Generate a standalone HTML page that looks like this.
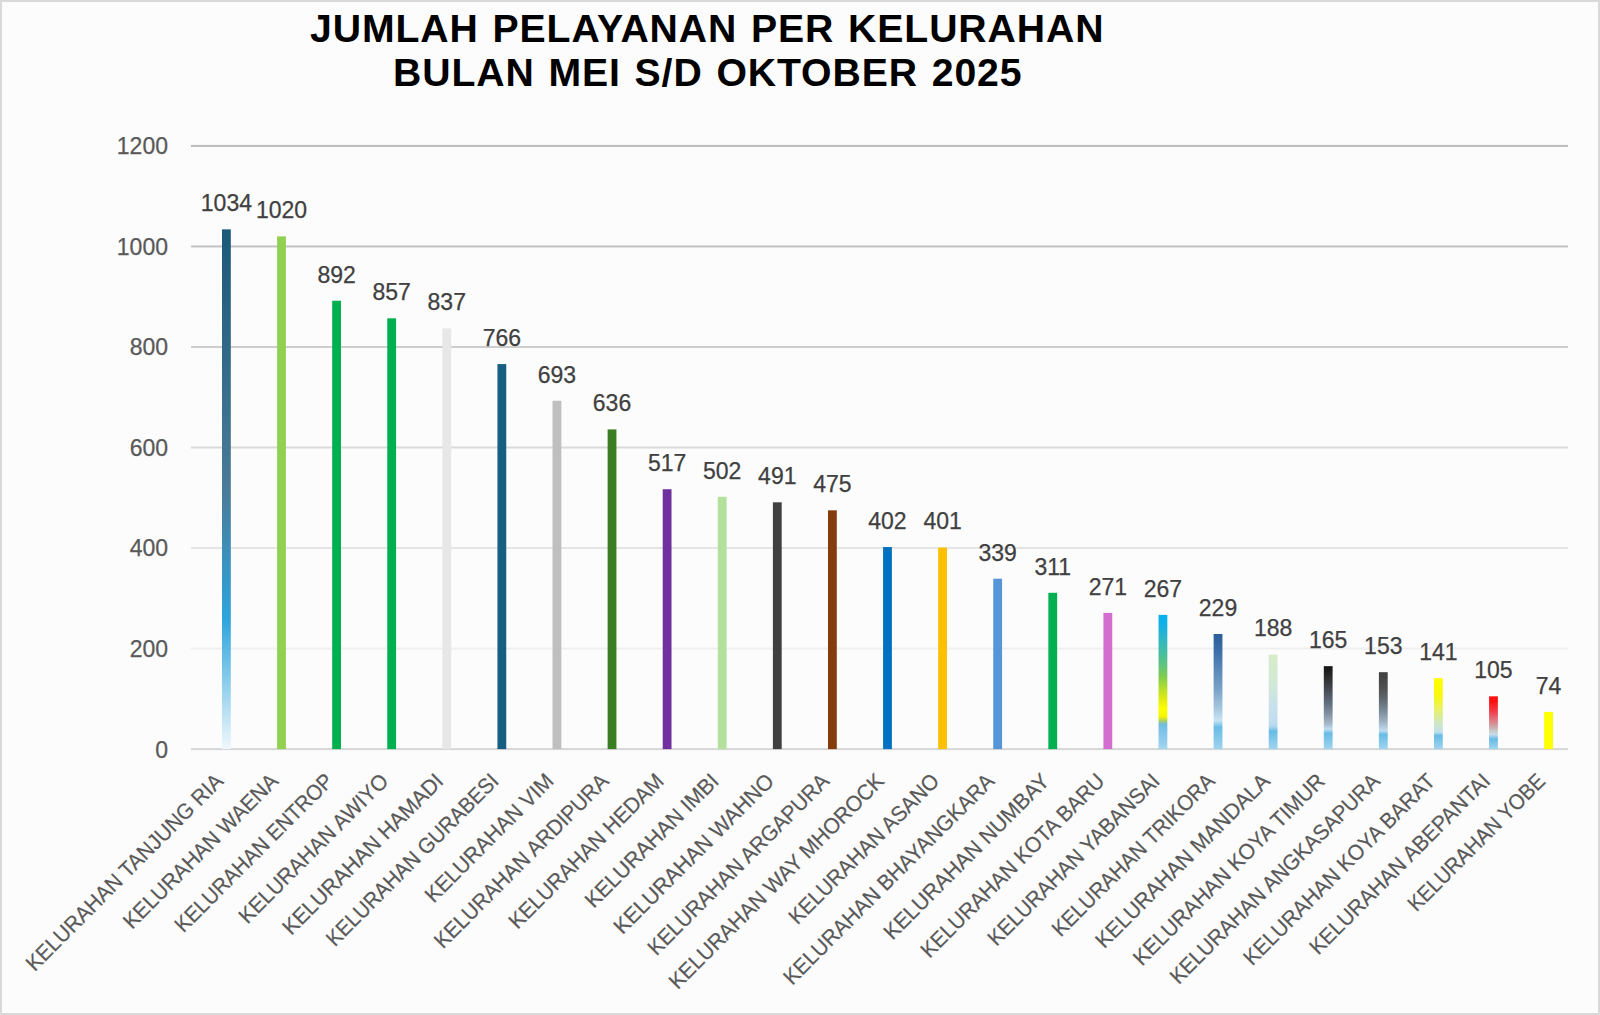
<!DOCTYPE html>
<html><head><meta charset="utf-8"><title>Jumlah Pelayanan per Kelurahan</title>
<style>
html,body{margin:0;padding:0;background:#fcfcfc;}
body{width:1600px;height:1015px;overflow:hidden;position:relative;}
svg{position:absolute;left:0;top:0;display:block;}
text{font-family:"Liberation Sans", sans-serif;}
</style></head><body>
<svg width="1600" height="1015" viewBox="0 0 1600 1015">
<defs>
<linearGradient id="g1" x1="0" y1="0" x2="0" y2="1"><stop offset="0" stop-color="#1b587a"/><stop offset="0.5" stop-color="#4a7b98"/><stop offset="0.75" stop-color="#2ea4dc"/><stop offset="1" stop-color="#f0f8fc"/></linearGradient>
<linearGradient id="g2" x1="0" y1="0" x2="0" y2="1"><stop offset="0" stop-color="#08b0ec"/><stop offset="0.07" stop-color="#10b0e8"/><stop offset="0.15" stop-color="#28b4d0"/><stop offset="0.26" stop-color="#40bca8"/><stop offset="0.37" stop-color="#60c480"/><stop offset="0.46" stop-color="#80cc50"/><stop offset="0.54" stop-color="#b0dc30"/><stop offset="0.63" stop-color="#e0ec10"/><stop offset="0.7" stop-color="#ffff00"/><stop offset="0.76" stop-color="#f4f400"/><stop offset="0.79" stop-color="#a8d060"/><stop offset="0.815" stop-color="#70bce4"/><stop offset="1" stop-color="#a4d4f0"/></linearGradient>
<linearGradient id="g3" x1="0" y1="0" x2="0" y2="1"><stop offset="0" stop-color="#2a5e96"/><stop offset="0.14" stop-color="#3a6ea8"/><stop offset="0.31" stop-color="#5a88b8"/><stop offset="0.48" stop-color="#7aa2c8"/><stop offset="0.65" stop-color="#a8c8e0"/><stop offset="0.75" stop-color="#c8e4f4"/><stop offset="0.81" stop-color="#68bce4"/><stop offset="1" stop-color="#a0d4f0"/></linearGradient>
<linearGradient id="g4" x1="0" y1="0" x2="0" y2="1"><stop offset="0" stop-color="#d8ecc8"/><stop offset="0.35" stop-color="#d0e8d8"/><stop offset="0.55" stop-color="#c8e0ec"/><stop offset="0.72" stop-color="#c0dcf0"/><stop offset="0.76" stop-color="#b0d8f0"/><stop offset="0.81" stop-color="#68bce4"/><stop offset="1" stop-color="#a0d4f0"/></linearGradient>
<linearGradient id="g5" x1="0" y1="0" x2="0" y2="1"><stop offset="0" stop-color="#141414"/><stop offset="0.15" stop-color="#303030"/><stop offset="0.3" stop-color="#484f58"/><stop offset="0.45" stop-color="#607080"/><stop offset="0.6" stop-color="#8898a8"/><stop offset="0.7" stop-color="#a8bccc"/><stop offset="0.76" stop-color="#c0dcf0"/><stop offset="0.81" stop-color="#68bce4"/><stop offset="1" stop-color="#a0d4f0"/></linearGradient>
<linearGradient id="g6" x1="0" y1="0" x2="0" y2="1"><stop offset="0" stop-color="#404040"/><stop offset="0.2" stop-color="#505050"/><stop offset="0.35" stop-color="#606870"/><stop offset="0.5" stop-color="#7a8a98"/><stop offset="0.65" stop-color="#a0b4c4"/><stop offset="0.76" stop-color="#c0dcf0"/><stop offset="0.81" stop-color="#68bce4"/><stop offset="1" stop-color="#a0d4f0"/></linearGradient>
<linearGradient id="g7" x1="0" y1="0" x2="0" y2="1"><stop offset="0" stop-color="#ffff00"/><stop offset="0.25" stop-color="#f8f810"/><stop offset="0.45" stop-color="#e8f070"/><stop offset="0.55" stop-color="#d8ec98"/><stop offset="0.62" stop-color="#d0e8c0"/><stop offset="0.7" stop-color="#c8e4d8"/><stop offset="0.76" stop-color="#c0e0f0"/><stop offset="0.81" stop-color="#68bce4"/><stop offset="1" stop-color="#a0d4f0"/></linearGradient>
<linearGradient id="g8" x1="0" y1="0" x2="0" y2="1"><stop offset="0" stop-color="#ff1010"/><stop offset="0.1" stop-color="#ff1010"/><stop offset="0.3" stop-color="#f04050"/><stop offset="0.45" stop-color="#e07880"/><stop offset="0.55" stop-color="#d09ca0"/><stop offset="0.65" stop-color="#c8c8c8"/><stop offset="0.72" stop-color="#c8dcec"/><stop offset="0.81" stop-color="#68bce4"/><stop offset="1" stop-color="#a0d4f0"/></linearGradient>
</defs>
<rect x="0" y="0" width="1600" height="1015" fill="#fcfcfc"/>
<rect x="1" y="1" width="1598" height="1013" fill="none" stroke="#d9d9d9" stroke-width="2"/>
<text x="310" y="41.8" font-size="39.2" font-weight="bold" fill="#000" letter-spacing="0.9" word-spacing="2.0">JUMLAH PELAYANAN PER KELURAHAN</text>
<text x="393" y="86.4" font-size="39.2" font-weight="bold" fill="#000" letter-spacing="0.9" word-spacing="2.0">BULAN MEI S/D OKTOBER 2025</text>
<rect x="191" y="748.10" width="1377" height="2" fill="#d6d6d6"/>
<text x="168" y="757.50" text-anchor="end" font-size="23.0" fill="#595959" stroke="#595959" stroke-width="0.25">0</text>
<rect x="191" y="647.57" width="1377" height="2" fill="#efefef"/>
<text x="168" y="656.97" text-anchor="end" font-size="23.0" fill="#595959" stroke="#595959" stroke-width="0.25">200</text>
<rect x="191" y="547.04" width="1377" height="2" fill="#e5e5e5"/>
<text x="168" y="556.44" text-anchor="end" font-size="23.0" fill="#595959" stroke="#595959" stroke-width="0.25">400</text>
<rect x="191" y="446.51" width="1377" height="2" fill="#dadada"/>
<text x="168" y="455.91" text-anchor="end" font-size="23.0" fill="#595959" stroke="#595959" stroke-width="0.25">600</text>
<rect x="191" y="345.98" width="1377" height="2" fill="#cecece"/>
<text x="168" y="355.38" text-anchor="end" font-size="23.0" fill="#595959" stroke="#595959" stroke-width="0.25">800</text>
<rect x="191" y="245.45" width="1377" height="2" fill="#c3c3c3"/>
<text x="168" y="254.85" text-anchor="end" font-size="23.0" fill="#595959" stroke="#595959" stroke-width="0.25">1000</text>
<rect x="191" y="144.92" width="1377" height="2" fill="#bbbbbb"/>
<text x="168" y="154.32" text-anchor="end" font-size="23.0" fill="#595959" stroke="#595959" stroke-width="0.25">1200</text>
<rect x="222.00" y="229.36" width="8.8" height="519.74" fill="url(#g1)"/>
<text x="226.40" y="211.16" text-anchor="middle" font-size="23.0" fill="#404040" stroke="#404040" stroke-width="0.25">1034</text>
<rect x="277.09" y="236.40" width="8.8" height="512.70" fill="#92d050"/>
<text x="281.49" y="218.20" text-anchor="middle" font-size="23.0" fill="#404040" stroke="#404040" stroke-width="0.25">1020</text>
<rect x="332.18" y="300.74" width="8.8" height="448.36" fill="#00b050"/>
<text x="336.58" y="282.54" text-anchor="middle" font-size="23.0" fill="#404040" stroke="#404040" stroke-width="0.25">892</text>
<rect x="387.27" y="318.33" width="8.8" height="430.77" fill="#00b050"/>
<text x="391.67" y="300.13" text-anchor="middle" font-size="23.0" fill="#404040" stroke="#404040" stroke-width="0.25">857</text>
<rect x="442.36" y="328.38" width="8.8" height="420.72" fill="#e7e7e7"/>
<text x="446.76" y="310.18" text-anchor="middle" font-size="23.0" fill="#404040" stroke="#404040" stroke-width="0.25">837</text>
<rect x="497.45" y="364.07" width="8.8" height="385.03" fill="#165e82"/>
<text x="501.85" y="345.87" text-anchor="middle" font-size="23.0" fill="#404040" stroke="#404040" stroke-width="0.25">766</text>
<rect x="552.54" y="400.76" width="8.8" height="348.34" fill="#bfbfbf"/>
<text x="556.94" y="382.56" text-anchor="middle" font-size="23.0" fill="#404040" stroke="#404040" stroke-width="0.25">693</text>
<rect x="607.63" y="429.41" width="8.8" height="319.69" fill="#3a7d22"/>
<text x="612.03" y="411.21" text-anchor="middle" font-size="23.0" fill="#404040" stroke="#404040" stroke-width="0.25">636</text>
<rect x="662.72" y="489.23" width="8.8" height="259.87" fill="#7030a0"/>
<text x="667.12" y="471.03" text-anchor="middle" font-size="23.0" fill="#404040" stroke="#404040" stroke-width="0.25">517</text>
<rect x="717.81" y="496.77" width="8.8" height="252.33" fill="#b3e19b"/>
<text x="722.21" y="478.57" text-anchor="middle" font-size="23.0" fill="#404040" stroke="#404040" stroke-width="0.25">502</text>
<rect x="772.90" y="502.30" width="8.8" height="246.80" fill="#404040"/>
<text x="777.30" y="484.10" text-anchor="middle" font-size="23.0" fill="#404040" stroke="#404040" stroke-width="0.25">491</text>
<rect x="827.99" y="510.34" width="8.8" height="238.76" fill="#843c0c"/>
<text x="832.39" y="492.14" text-anchor="middle" font-size="23.0" fill="#404040" stroke="#404040" stroke-width="0.25">475</text>
<rect x="883.08" y="547.03" width="8.8" height="202.07" fill="#0070c0"/>
<text x="887.48" y="528.83" text-anchor="middle" font-size="23.0" fill="#404040" stroke="#404040" stroke-width="0.25">402</text>
<rect x="938.17" y="547.54" width="8.8" height="201.56" fill="#ffc000"/>
<text x="942.57" y="529.34" text-anchor="middle" font-size="23.0" fill="#404040" stroke="#404040" stroke-width="0.25">401</text>
<rect x="993.26" y="578.70" width="8.8" height="170.40" fill="#5596d8"/>
<text x="997.66" y="560.50" text-anchor="middle" font-size="23.0" fill="#404040" stroke="#404040" stroke-width="0.25">339</text>
<rect x="1048.35" y="592.78" width="8.8" height="156.32" fill="#00b050"/>
<text x="1052.75" y="574.58" text-anchor="middle" font-size="23.0" fill="#404040" stroke="#404040" stroke-width="0.25">311</text>
<rect x="1103.44" y="612.88" width="8.8" height="136.22" fill="#d36ecf"/>
<text x="1107.84" y="594.68" text-anchor="middle" font-size="23.0" fill="#404040" stroke="#404040" stroke-width="0.25">271</text>
<rect x="1158.53" y="614.89" width="8.8" height="134.21" fill="url(#g2)"/>
<text x="1162.93" y="596.69" text-anchor="middle" font-size="23.0" fill="#404040" stroke="#404040" stroke-width="0.25">267</text>
<rect x="1213.62" y="633.99" width="8.8" height="115.11" fill="url(#g3)"/>
<text x="1218.02" y="615.79" text-anchor="middle" font-size="23.0" fill="#404040" stroke="#404040" stroke-width="0.25">229</text>
<rect x="1268.71" y="654.60" width="8.8" height="94.50" fill="url(#g4)"/>
<text x="1273.11" y="636.40" text-anchor="middle" font-size="23.0" fill="#404040" stroke="#404040" stroke-width="0.25">188</text>
<rect x="1323.80" y="666.16" width="8.8" height="82.94" fill="url(#g5)"/>
<text x="1328.20" y="647.96" text-anchor="middle" font-size="23.0" fill="#404040" stroke="#404040" stroke-width="0.25">165</text>
<rect x="1378.89" y="672.19" width="8.8" height="76.91" fill="url(#g6)"/>
<text x="1383.29" y="653.99" text-anchor="middle" font-size="23.0" fill="#404040" stroke="#404040" stroke-width="0.25">153</text>
<rect x="1433.98" y="678.23" width="8.8" height="70.87" fill="url(#g7)"/>
<text x="1438.38" y="660.03" text-anchor="middle" font-size="23.0" fill="#404040" stroke="#404040" stroke-width="0.25">141</text>
<rect x="1489.07" y="696.32" width="8.8" height="52.78" fill="url(#g8)"/>
<text x="1493.47" y="678.12" text-anchor="middle" font-size="23.0" fill="#404040" stroke="#404040" stroke-width="0.25">105</text>
<rect x="1544.16" y="711.90" width="8.8" height="37.20" fill="#ffff00"/>
<text x="1548.56" y="693.70" text-anchor="middle" font-size="23.0" fill="#404040" stroke="#404040" stroke-width="0.25">74</text>
<text transform="translate(224.40,782.5) rotate(-45)" text-anchor="end" font-size="21.8" fill="#595959" stroke="#595959" stroke-width="0.2" textLength="268.3" lengthAdjust="spacingAndGlyphs">KELURAHAN TANJUNG RIA</text>
<text transform="translate(279.49,782.5) rotate(-45)" text-anchor="end" font-size="21.8" fill="#595959" stroke="#595959" stroke-width="0.2" textLength="208.6" lengthAdjust="spacingAndGlyphs">KELURAHAN WAENA</text>
<text transform="translate(334.58,782.5) rotate(-45)" text-anchor="end" font-size="21.8" fill="#595959" stroke="#595959" stroke-width="0.2" textLength="213.5" lengthAdjust="spacingAndGlyphs">KELURAHAN ENTROP</text>
<text transform="translate(389.67,782.5) rotate(-45)" text-anchor="end" font-size="21.8" fill="#595959" stroke="#595959" stroke-width="0.2" textLength="201.0" lengthAdjust="spacingAndGlyphs">KELURAHAN AWIYO</text>
<text transform="translate(444.76,782.5) rotate(-45)" text-anchor="end" font-size="21.8" fill="#595959" stroke="#595959" stroke-width="0.2" textLength="217.2" lengthAdjust="spacingAndGlyphs">KELURAHAN HAMADI</text>
<text transform="translate(499.85,782.5) rotate(-45)" text-anchor="end" font-size="21.8" fill="#595959" stroke="#595959" stroke-width="0.2" textLength="233.2" lengthAdjust="spacingAndGlyphs">KELURAHAN GURABESI</text>
<text transform="translate(554.94,782.5) rotate(-45)" text-anchor="end" font-size="21.8" fill="#595959" stroke="#595959" stroke-width="0.2" textLength="171.4" lengthAdjust="spacingAndGlyphs">KELURAHAN VIM</text>
<text transform="translate(610.03,782.5) rotate(-45)" text-anchor="end" font-size="21.8" fill="#595959" stroke="#595959" stroke-width="0.2" textLength="236.2" lengthAdjust="spacingAndGlyphs">KELURAHAN ARDIPURA</text>
<text transform="translate(665.12,782.5) rotate(-45)" text-anchor="end" font-size="21.8" fill="#595959" stroke="#595959" stroke-width="0.2" textLength="208.7" lengthAdjust="spacingAndGlyphs">KELURAHAN HEDAM</text>
<text transform="translate(720.21,782.5) rotate(-45)" text-anchor="end" font-size="21.8" fill="#595959" stroke="#595959" stroke-width="0.2" textLength="178.8" lengthAdjust="spacingAndGlyphs">KELURAHAN IMBI</text>
<text transform="translate(775.30,782.5) rotate(-45)" text-anchor="end" font-size="21.8" fill="#595959" stroke="#595959" stroke-width="0.2" textLength="216.0" lengthAdjust="spacingAndGlyphs">KELURAHAN WAHNO</text>
<text transform="translate(830.39,782.5) rotate(-45)" text-anchor="end" font-size="21.8" fill="#595959" stroke="#595959" stroke-width="0.2" textLength="246.0" lengthAdjust="spacingAndGlyphs">KELURAHAN ARGAPURA</text>
<text transform="translate(885.48,782.5) rotate(-45)" text-anchor="end" font-size="21.8" fill="#595959" stroke="#595959" stroke-width="0.2" textLength="293.8" lengthAdjust="spacingAndGlyphs">KELURAHAN WAY MHOROCK</text>
<text transform="translate(940.57,782.5) rotate(-45)" text-anchor="end" font-size="21.8" fill="#595959" stroke="#595959" stroke-width="0.2" textLength="202.2" lengthAdjust="spacingAndGlyphs">KELURAHAN ASANO</text>
<text transform="translate(995.66,782.5) rotate(-45)" text-anchor="end" font-size="21.8" fill="#595959" stroke="#595959" stroke-width="0.2" textLength="287.7" lengthAdjust="spacingAndGlyphs">KELURAHAN BHAYANGKARA</text>
<text transform="translate(1050.75,782.5) rotate(-45)" text-anchor="end" font-size="21.8" fill="#595959" stroke="#595959" stroke-width="0.2" textLength="223.9" lengthAdjust="spacingAndGlyphs">KELURAHAN NUMBAY</text>
<text transform="translate(1105.84,782.5) rotate(-45)" text-anchor="end" font-size="21.8" fill="#595959" stroke="#595959" stroke-width="0.2" textLength="249.5" lengthAdjust="spacingAndGlyphs">KELURAHAN KOTA BARU</text>
<text transform="translate(1160.93,782.5) rotate(-45)" text-anchor="end" font-size="21.8" fill="#595959" stroke="#595959" stroke-width="0.2" textLength="232.5" lengthAdjust="spacingAndGlyphs">KELURAHAN YABANSAI</text>
<text transform="translate(1216.02,782.5) rotate(-45)" text-anchor="end" font-size="21.8" fill="#595959" stroke="#595959" stroke-width="0.2" textLength="219.7" lengthAdjust="spacingAndGlyphs">KELURAHAN TRIKORA</text>
<text transform="translate(1271.11,782.5) rotate(-45)" text-anchor="end" font-size="21.8" fill="#595959" stroke="#595959" stroke-width="0.2" textLength="235.9" lengthAdjust="spacingAndGlyphs">KELURAHAN MANDALA</text>
<text transform="translate(1326.20,782.5) rotate(-45)" text-anchor="end" font-size="21.8" fill="#595959" stroke="#595959" stroke-width="0.2" textLength="260.5" lengthAdjust="spacingAndGlyphs">KELURAHAN KOYA TIMUR</text>
<text transform="translate(1381.29,782.5) rotate(-45)" text-anchor="end" font-size="21.8" fill="#595959" stroke="#595959" stroke-width="0.2" textLength="286.6" lengthAdjust="spacingAndGlyphs">KELURAHAN ANGKASAPURA</text>
<text transform="translate(1436.38,782.5) rotate(-45)" text-anchor="end" font-size="21.8" fill="#595959" stroke="#595959" stroke-width="0.2" textLength="260.4" lengthAdjust="spacingAndGlyphs">KELURAHAN KOYA BARAT</text>
<text transform="translate(1491.47,782.5) rotate(-45)" text-anchor="end" font-size="21.8" fill="#595959" stroke="#595959" stroke-width="0.2" textLength="245.1" lengthAdjust="spacingAndGlyphs">KELURAHAN ABEPANTAI</text>
<text transform="translate(1546.56,782.5) rotate(-45)" text-anchor="end" font-size="21.8" fill="#595959" stroke="#595959" stroke-width="0.2" textLength="184.0" lengthAdjust="spacingAndGlyphs">KELURAHAN YOBE</text>
</svg></body></html>
